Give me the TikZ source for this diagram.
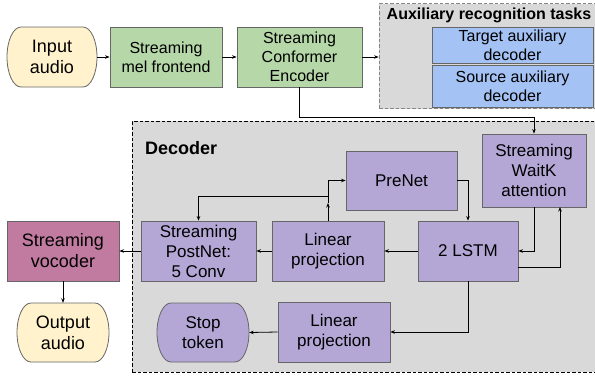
\documentclass[tikz,border=0pt]{standalone}
\usepackage{fontspec}
\setmainfont{Liberation Sans}
\usetikzlibrary{arrows.meta,calc}
\definecolor{cyellow}{HTML}{FFF2CC}
\definecolor{cgreen}{HTML}{B6D7A8}
\definecolor{cblue}{HTML}{A4C2F4}
\definecolor{cpurple}{HTML}{B4A7D6}
\definecolor{cmauve}{HTML}{C27BA0}
\definecolor{cregion}{HTML}{D9D9D9}
\definecolor{cborder}{HTML}{666666}
\tikzset{
  blk/.style={draw=cborder, line width=0.8pt, inner sep=0pt, align=center},
  txt/.style={inner sep=0pt, align=center},
  fsixteen/.style={font=\fontsize{16}{19}\selectfont},
  fseventeen/.style={font=\fontsize{17}{20}\selectfont},
  feighteen/.style={font=\fontsize{18}{21}\selectfont},
  greenbox/.style={blk, fill=cgreen, fsixteen},
  bluebox/.style={blk, fill=cblue, fsixteen},
  purplebox/.style={blk, fill=cpurple, fseventeen},
  region/.style={fill=cregion, dashed, dash pattern=on 3.5pt off 2pt, line width=0.7pt},
  conn/.style={line width=0.8pt, -{Stealth[length=4.5pt,width=3.5pt]}},
}
\newcommand\pillshape[5]{%
  \filldraw[draw=cborder, line width=0.8pt, fill=#5]
    ({#1-#3/2+14},{#2-#4/2}) -- ({#1+#3/2-14},{#2-#4/2})
    arc[start angle=-90, end angle=90, x radius=14, y radius=#4/2]
    -- ({#1-#3/2+14},{#2+#4/2})
    arc[start angle=90, end angle=270, x radius=14, y radius=#4/2] -- cycle;}
\begin{document}
\begin{tikzpicture}[x=1pt,y=-1pt]
\useasboundingbox (0,0) rectangle (595,376);
% regions
\node[region, draw=cborder!80, minimum width=216pt, minimum height=105pt, inner sep=0pt] (aux) at (487,56) {};
\node[region, draw=black, minimum width=463pt, minimum height=251pt, inner sep=0pt] (dec) at (363.5,246.5) {};
\node[font=\bfseries\fontsize{16}{19}\selectfont, anchor=center] (auxlbl) at (489,15) {Auxiliary recognition tasks};
\node[font=\bfseries\fontsize{18}{21}\selectfont, anchor=west, inner sep=0pt] (declbl) at (145,148) {Decoder};
% top row
\pillshape{52}{57}{90}{60}{cyellow}
\node[txt, feighteen, minimum width=90pt, minimum height=60pt] (input) at (52,57) {Input\\audio};
\node[greenbox, minimum width=112pt, minimum height=60pt] (mel) at (166,57) {Streaming\\mel frontend};
\node[greenbox, minimum width=125pt, minimum height=60pt] (enc) at (299.5,57) {Streaming\\Conformer\\Encoder};
\node[bluebox, minimum width=161pt, minimum height=36pt] (tgt) at (512.5,45) {Target auxiliary\\decoder};
\node[bluebox, minimum width=161pt, minimum height=42pt] (src) at (512.5,86) {Source auxiliary\\decoder};
% decoder
\node[purplebox, minimum width=111pt, minimum height=59pt] (prenet) at (401.5,180.5) {PreNet};
\node[purplebox, minimum width=104pt, minimum height=73pt] (attn) at (534,170.5) {Streaming\\WaitK\\attention};
\node[purplebox, minimum width=100pt, minimum height=60pt] (lstm) at (468,251) {2 LSTM};
\node[purplebox, minimum width=112pt, minimum height=60pt] (lp1) at (328,251) {Linear\\projection};
\node[purplebox, minimum width=115pt, minimum height=60pt] (postnet) at (198.5,251) {Streaming\\PostNet:\\5 Conv};
\node[blk, fill=cmauve, feighteen, minimum width=112pt, minimum height=60pt] (voc) at (63,251) {Streaming\\vocoder};
\pillshape{63}{332.5}{92}{59}{cyellow}
\node[txt, feighteen, minimum width=92pt, minimum height=59pt] (output) at (63,332.5) {Output\\audio};
\pillshape{203}{332.5}{92}{59}{cpurple}
\node[txt, fseventeen, minimum width=92pt, minimum height=59pt] (stop) at (203,332.5) {Stop\\token};
\node[purplebox, minimum width=112pt, minimum height=60pt] (lp2) at (334,332) {Linear\\projection};
% connectors
\coordinate (j1) at (534,117);
\coordinate (j2) at (328,196);
\coordinate (j3) at (328,203);
\coordinate (j4) at (518,267);
\coordinate (j5) at (560,207);
\draw[conn] (input) -- (mel);
\draw[conn] (mel) -- (enc);
\draw[conn] (enc.east) -- (enc.east -| aux.west);
\draw[conn] (enc.south) |- (j1) -- (attn.north);
\draw[conn] (prenet.east) -| (lstm.north);
\draw[conn] (attn.south) |- (lstm.east);
\draw[conn] (j4) -| (j5);
\draw[conn] (lstm.west) -- (lp1.east);
\draw[conn] (lp1.west) -- (postnet.east);
\draw[conn] (postnet.west) -- (voc.east);
\draw[conn] (lp1.north) -- (j3);
\draw[conn] (j3) |- (prenet.west);
\draw[conn] (j2) -| (postnet.north);
\draw[conn] (lstm.south) |- (lp2.east);
\draw[conn] (lp2.west) -- (stop.east);
\draw[conn] (voc.south) -- (output.north);
\end{tikzpicture}
\end{document}
